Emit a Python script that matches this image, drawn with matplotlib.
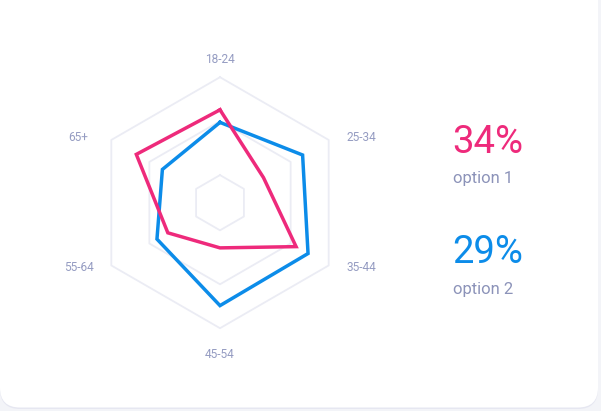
import numpy as np
import matplotlib
matplotlib.use("Agg")
import matplotlib.pyplot as plt
from matplotlib.patches import FancyBboxPatch

plt.rcParams['font.family'] = ['Roboto', 'DejaVu Sans']

# ================== DATA ==================
categories = ["18-24", "25-34", "35-44", "45-54", "55-64", "65+"]
option1 = [74, 40, 70, 36, 48, 77]   # pink
option2 = [64, 76, 81, 82, 58, 53]   # blue
rings = [22, 65, 100]
summary_values = ["34%", "29%"]
summary_names = ["option 1", "option 2"]

PINK = "#ee2a7b"
BLUE = "#0c8ce9"
GRID = "#ebecf4"
LABEL = "#959cc2"
BG = "#f3f4f8"

W, H, DPI = 601, 411, 100

fig = plt.figure(figsize=(W / DPI, H / DPI), dpi=DPI)
fig.patch.set_facecolor(BG)

# ================== CARD ==================
bg = fig.add_axes([0, 0, 1, 1])
bg.set_xlim(0, W)
bg.set_ylim(H, 0)
bg.axis("off")
bg.add_patch(FancyBboxPatch((20, -10), 558, 399, boxstyle="round,pad=20",
                            fc="#e6e7f1", ec="none"))
bg.add_patch(FancyBboxPatch((20, -11), 558, 398.5, boxstyle="round,pad=20",
                            fc="white", ec="none"))

# ================== RADAR ==================
cx, cy, R = 220, 202.7, 125.5      # pixels: center and outer ring radius
span = 160                          # half-width of radar axes in value units
scale = R / 100.0
half = span * scale
ax = fig.add_axes([(cx - half) / W, (H - cy - half) / H, 2 * half / W, 2 * half / H])
ax.set_xlim(-span, span)
ax.set_ylim(-span, span)
ax.axis("off")

angles = np.deg2rad(90 - 60 * np.arange(len(categories)))

def closed(vals):
    v = np.append(vals, vals[0])
    a = np.append(angles, angles[0])
    return v * np.cos(a), v * np.sin(a)

for r in rings:
    x, y = closed(np.full(len(categories), r))
    ax.plot(x, y, color=GRID, lw=1.3, zorder=1)

for vals, col in [(option2, BLUE), (option1, PINK)]:
    x, y = closed(np.array(vals, dtype=float))
    ax.plot(x, y, color=col, lw=2.5, solid_joinstyle="miter", zorder=3)

label_pos = [(0, 114), (112.6, 51.6), (112.6, -51.6),
             (0, -120.6), (-112.6, -51.6), (-112.6, 51.6)]
for name, (lx, ly) in zip(categories, label_pos):
    ax.text(lx, ly, name, ha="center", va="center", fontsize=8.6, color=LABEL)

# ================== SUMMARY ==================
for i, (val, name, col) in enumerate(zip(summary_values, summary_names, [PINK, BLUE])):
    y0 = 152.5 + i * 110.5
    bg.text(452, y0, val, ha="left", va="baseline", fontsize=27.5, color=col)
    bg.text(453, y0 + 30.5, name, ha="left", va="baseline", fontsize=12, color="#8c93b9")

fig.savefig("out.png", dpi=DPI, facecolor=BG)
